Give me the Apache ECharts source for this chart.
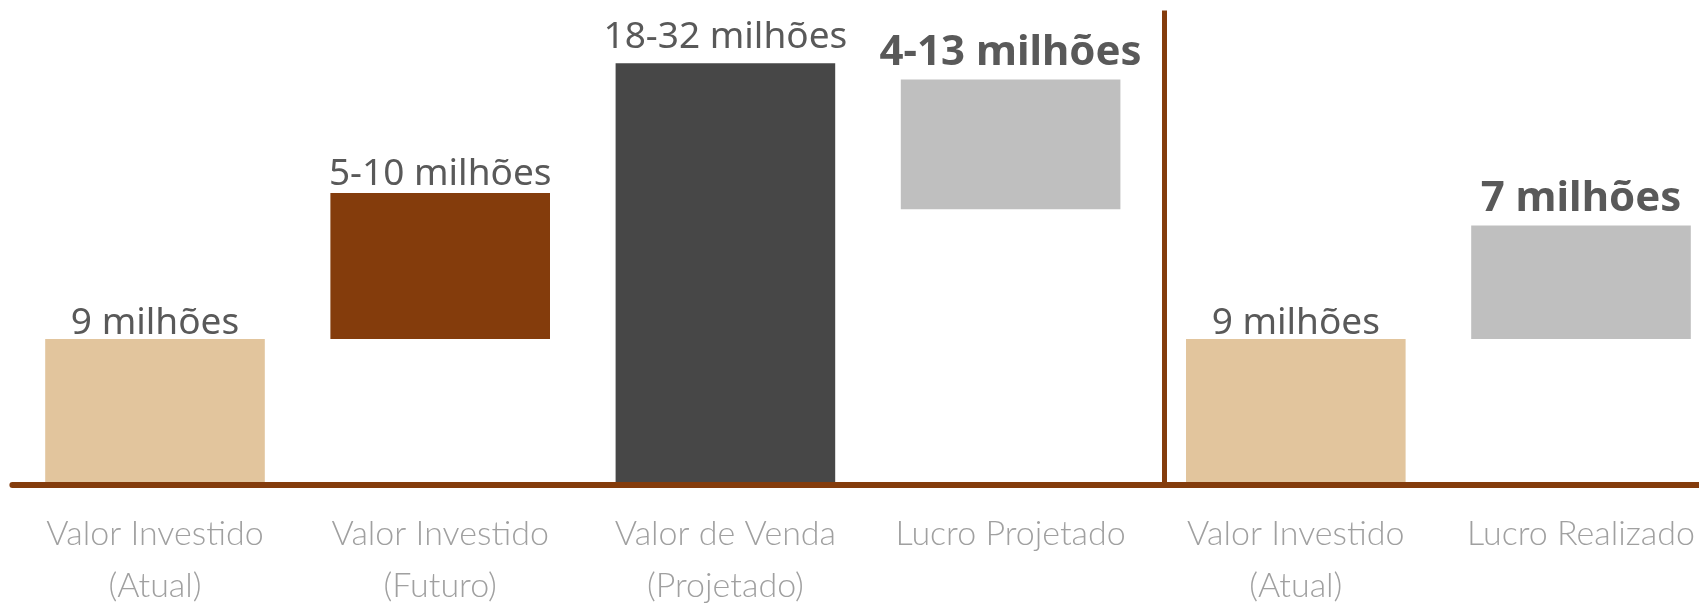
<!DOCTYPE html>
<html>
<head>
<meta charset="utf-8">
<script src="https://cdn.jsdelivr.net/npm/echarts@6/dist/echarts.min.js"></script>
<style>
  html, body { margin: 0; padding: 0; background: #fff; }
  #chart { width: 1699px; height: 604px; }
</style>
</head>
<body>
<div id="chart"></div>
<script>
// data (units: millions, bars drawn low -> high)
const categories = [
  "Valor Investido\n(Atual)",
  "Valor Investido\n(Futuro)",
  "Valor de Venda\n(Projetado)",
  "Lucro Projetado",
  "Valor Investido\n(Atual)",
  "Lucro Realizado"
];
const barLow = [0, 9, 0, 17, 0, 9];
const barHigh = [9, 18, 26, 25, 9, 16];
const valueLabels = ["9 milhões", "5-10 milhões", "18-32 milhões", "4-13 milhões", "9 milhões", "7 milhões"];
const boldLabels = [false, false, false, true, false, true];
const separatorAt = 4.04; // on a 0..6 value axis, just past the 4th category

const barColors = ["#E2C59D", "#843C0C", "#474747", "#BFBFBF", "#E2C59D", "#BFBFBF"];
const labelDistance = [-3, 0, 7, 5, -3, 5];
const brown = "#843C0C";
const yMax = 29.25;

const chart = echarts.init(document.getElementById("chart"));

chart.setOption({
  animation: false,
  // the last category runs past the right edge, so the grid does too
  grid: { left: 12.4, right: -24.6, top: 10.5, bottom: 119, containLabel: false, outerBoundsMode: "none" },
  xAxis: [
    {
      type: "category",
      data: categories,
      z: 5,
      axisTick: { show: false },
      axisLine: { lineStyle: { color: brown, width: 6 } },
      axisLabel: {
        interval: 0,
        margin: 23,
        color: "#A0A0A0",
        fontFamily: "Lato",
        fontWeight: 300,
        fontSize: 34,
        lineHeight: 52
      }
    },
    { type: "value", min: 0, max: 6, show: false }
  ],
  yAxis: { type: "value", min: 0, max: yMax, show: false, splitLine: { show: false } },
  series: [
    {
      name: "base",
      type: "bar",
      stack: "range",
      barWidth: "77%",
      silent: true,
      itemStyle: { color: "transparent" },
      data: barLow
    },
    {
      name: "valor",
      type: "bar",
      stack: "range",
      barWidth: "77%",
      data: barHigh.map((h, i) => ({
        value: h - barLow[i],
        itemStyle: { color: barColors[i] },
        label: {
          show: true,
          position: "top",
          distance: labelDistance[i],
          formatter: valueLabels[i],
          color: "#595959",
          fontFamily: "Noto Sans",
          fontWeight: boldLabels[i] ? "bold" : "normal",
          fontSize: boldLabels[i] ? 42 : 37
        }
      }))
    },
    {
      name: "separador",
      type: "line",
      xAxisIndex: 1,
      clip: false,
      showSymbol: false,
      symbolSize: 0,
      data: [[separatorAt, 0]],
      markLine: {
        silent: true,
        symbol: ["none", "none"],
        label: { show: false },
        lineStyle: { color: brown, width: 5, type: "solid" },
        data: [[{ coord: [separatorAt, 0] }, { coord: [separatorAt, yMax] }]]
      }
    }
  ]
});
</script>
</body>
</html>
